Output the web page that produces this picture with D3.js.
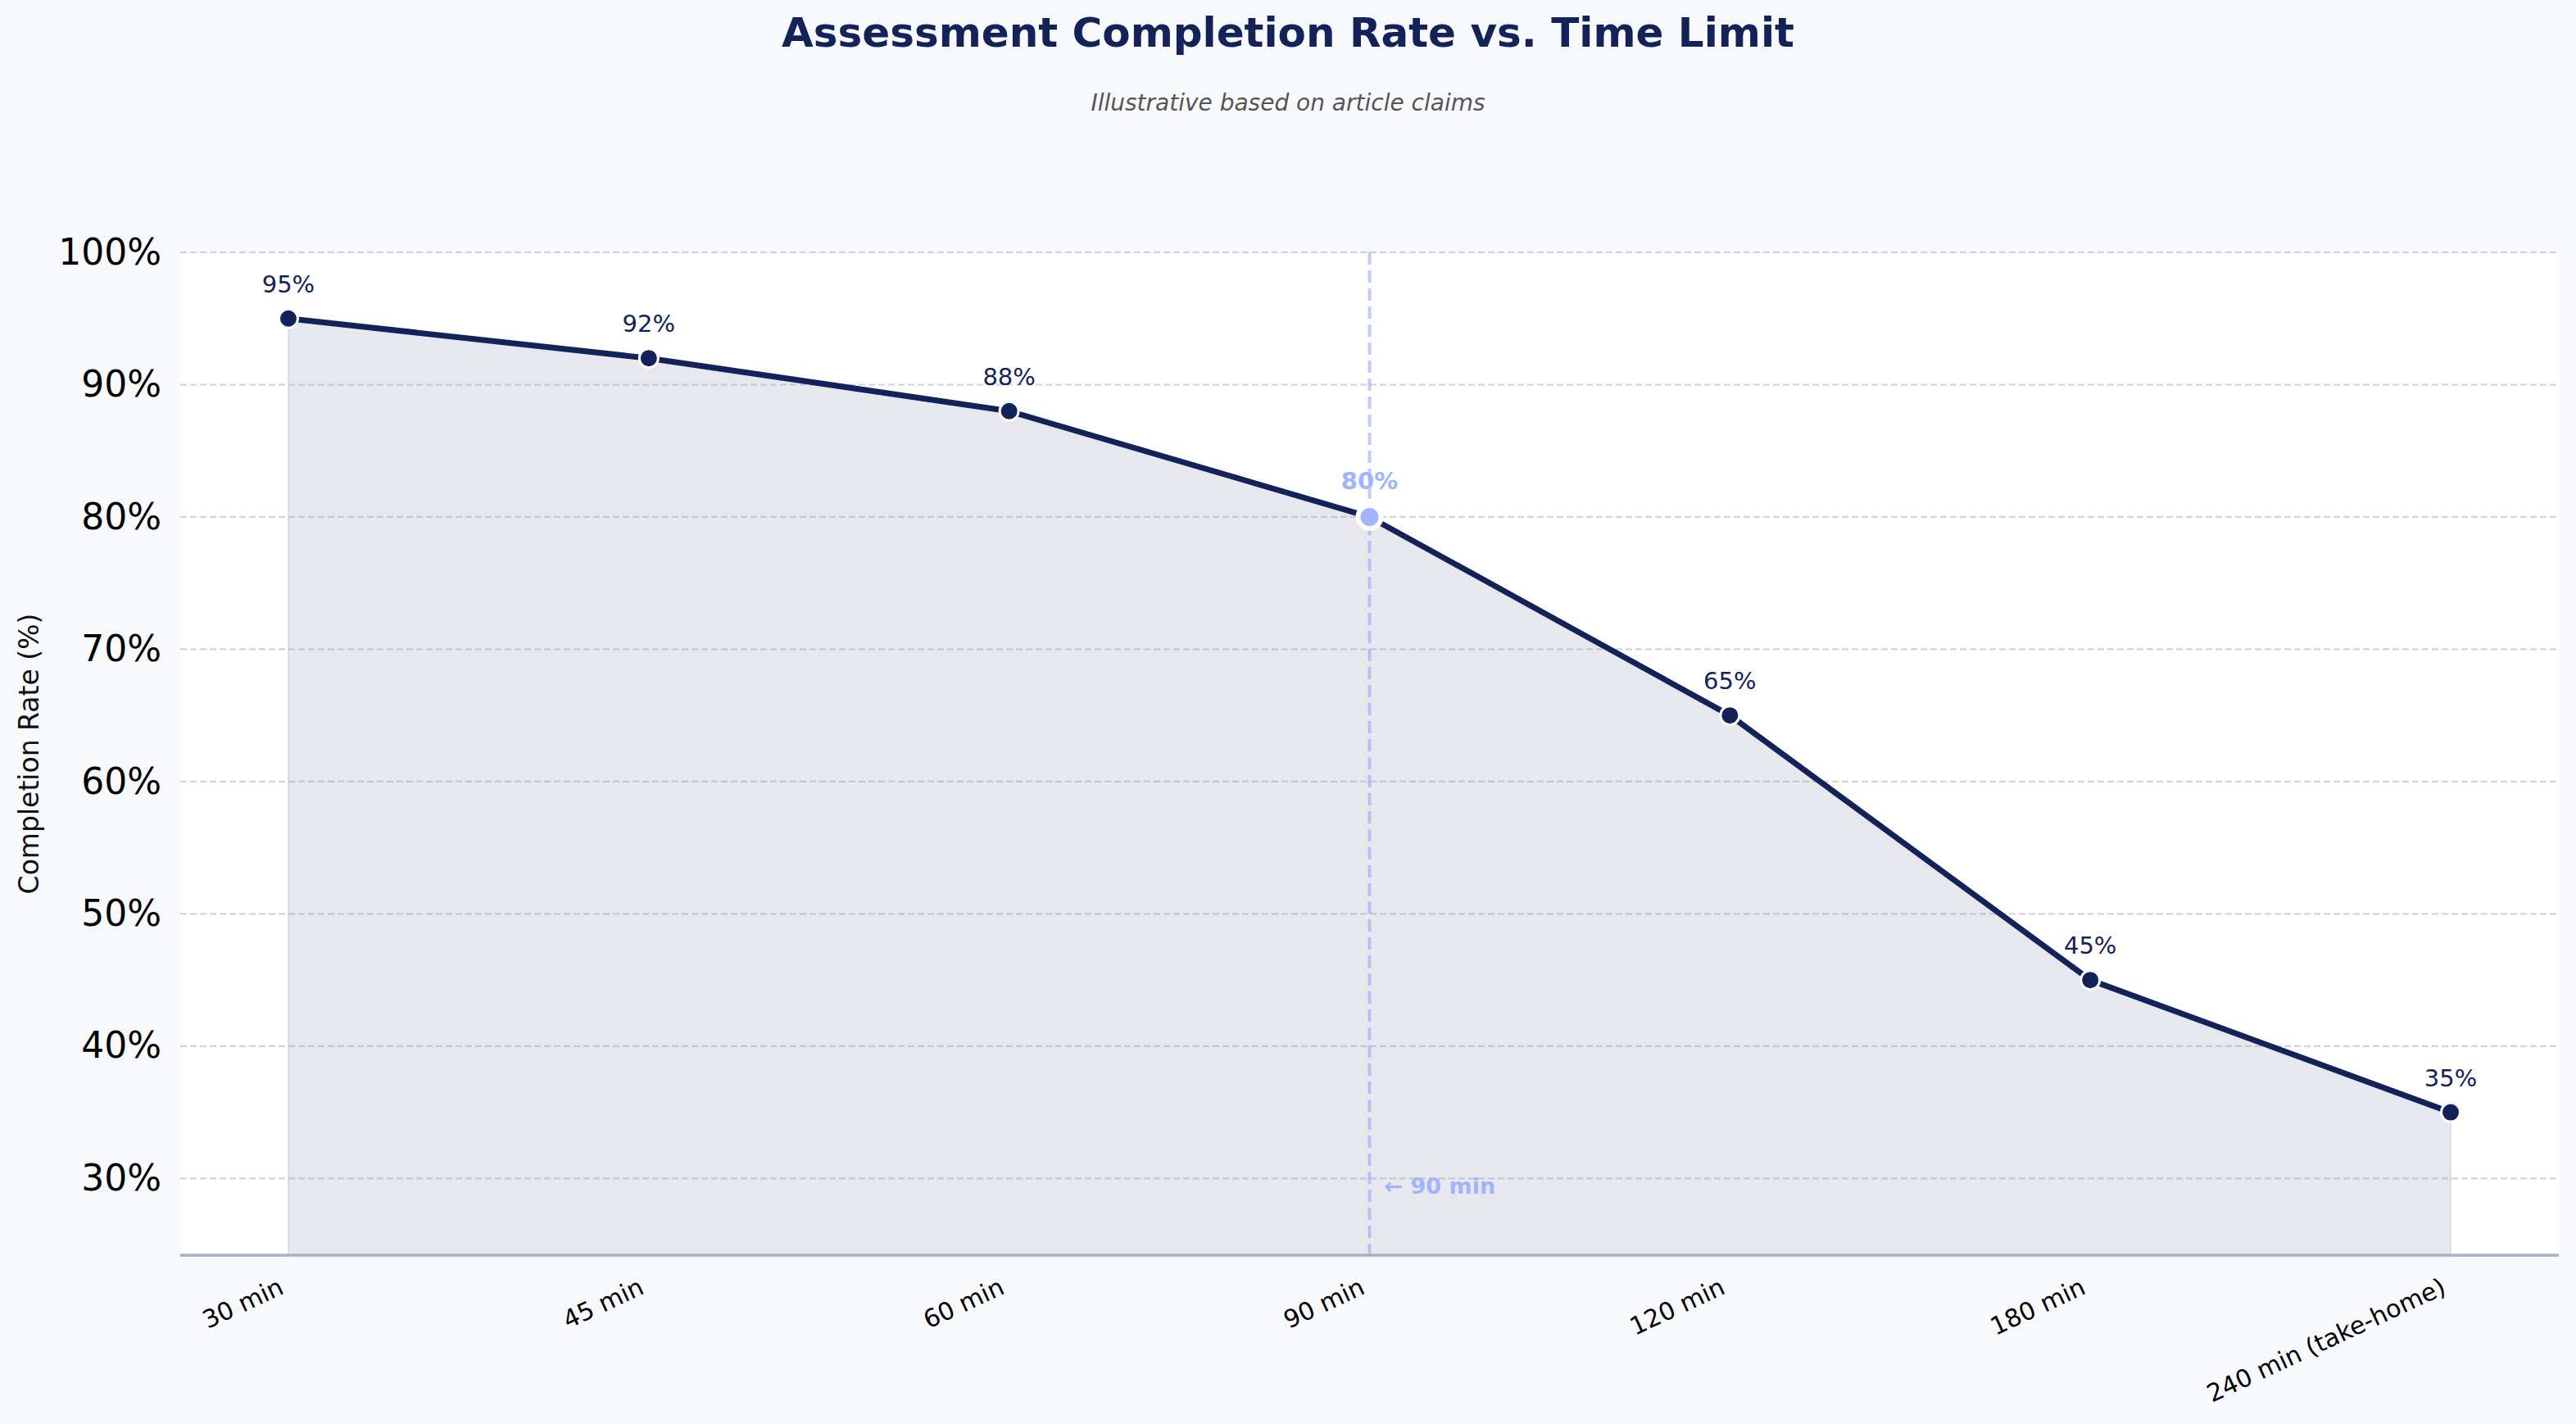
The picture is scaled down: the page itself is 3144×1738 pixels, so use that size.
<!DOCTYPE html>
<html>
<head>
<meta charset="utf-8">
<script src="https://cdn.jsdelivr.net/npm/d3@7"></script>
<style>
  html, body { margin: 0; padding: 0; background: #f7f9fd; }
  svg { display: block; font-family: "DejaVu Sans", sans-serif; }
</style>
</head>
<body>
<script>
// data
const timeLimits = ["30 min", "45 min", "60 min", "90 min", "120 min", "180 min", "240 min (take-home)"]
const completionRates = [95, 92, 88, 80, 65, 45, 35]
const yTicks = [30, 40, 50, 60, 70, 80, 90, 100]
const highlightLimit = "90 min"

const width = 3144
const height = 1738
const margin = { top: 308, right: 21, bottom: 206, left: 220 }
const navy = "#14225a"
const accent = "#a0b4ff"

const svg = d3.select("body")
  .append("svg")
  .attr("width", width)
  .attr("height", height)

svg.append("rect")
  .attr("width", width)
  .attr("height", height)
  .attr("fill", "#f7f9fd")

const x = d3.scalePoint()
  .domain(timeLimits)
  .range([margin.left, width - margin.right])
  .padding(0.3)

const y = d3.scaleLinear()
  .domain([24.2, 100])
  .range([height - margin.bottom, margin.top])

const plotBottom = height - margin.bottom

// axes background
svg.append("rect")
  .attr("x", margin.left)
  .attr("y", margin.top)
  .attr("width", width - margin.left - margin.right)
  .attr("height", plotBottom - margin.top)
  .attr("fill", "#ffffff")

const data = timeLimits.map((t, i) => ({ t, v: completionRates[i] }))

// shaded area under the curve
const area = d3.area()
  .x(d => x(d.t))
  .y0(plotBottom)
  .y1(d => y(d.v))

svg.append("path")
  .datum(data)
  .attr("d", area)
  .attr("fill", navy)
  .attr("fill-opacity", 0.1)
  .attr("stroke", navy)
  .attr("stroke-opacity", 0.1)
  .attr("stroke-width", 2)

// grid
svg.append("g")
  .selectAll("line")
  .data(yTicks)
  .enter().append("line")
  .attr("x1", margin.left)
  .attr("x2", width - margin.right)
  .attr("y1", d => y(d))
  .attr("y2", d => y(d))
  .attr("stroke", "rgb(150,158,185)")
  .attr("stroke-opacity", 0.45)
  .attr("stroke-width", 2.2)
  .attr("stroke-dasharray", "8,4")

// 90 min reference line
svg.append("line")
  .attr("x1", x(highlightLimit))
  .attr("x2", x(highlightLimit))
  .attr("y1", margin.top)
  .attr("y2", plotBottom)
  .attr("stroke", "#7f9cf5")
  .attr("stroke-opacity", 0.5)
  .attr("stroke-width", 4)
  .attr("stroke-dasharray", "15,7")

svg.append("text")
  .attr("x", x(highlightLimit) + 18)
  .attr("y", y(30) + 19)
  .attr("font-size", 27)
  .attr("font-weight", "bold")
  .attr("fill", accent)
  .text("← 90 min")

// bottom spine
svg.append("line")
  .attr("x1", margin.left)
  .attr("x2", width - margin.right)
  .attr("y1", plotBottom)
  .attr("y2", plotBottom)
  .attr("stroke", "#a9afc5")
  .attr("stroke-width", 3.5)

// line + markers
const line = d3.line()
  .x(d => x(d.t))
  .y(d => y(d.v))

svg.append("path")
  .datum(data)
  .attr("d", line)
  .attr("fill", "none")
  .attr("stroke", navy)
  .attr("stroke-width", 7)
  .attr("stroke-linejoin", "round")

svg.append("g")
  .selectAll("circle")
  .data(data)
  .enter().append("circle")
  .attr("cx", d => x(d.t))
  .attr("cy", d => y(d.v))
  .attr("r", d => d.t === highlightLimit ? 14 : 11.5)
  .attr("fill", d => d.t === highlightLimit ? accent : navy)
  .attr("stroke", "#ffffff")
  .attr("stroke-width", d => d.t === highlightLimit ? 6 : 3)

// value labels
svg.append("g")
  .selectAll("text")
  .data(data)
  .enter().append("text")
  .attr("x", d => x(d.t))
  .attr("y", d => y(d.v) - (d.t === highlightLimit ? 34 : 32))
  .attr("text-anchor", "middle")
  .attr("font-size", 29)
  .attr("font-weight", d => d.t === highlightLimit ? "bold" : "normal")
  .attr("fill", d => d.t === highlightLimit ? accent : navy)
  .text(d => d.v + "%")

// y axis
const yAxis = svg.append("g")
  .attr("transform", `translate(${margin.left},0)`)
  .call(d3.axisLeft(y).tickValues(yTicks).tickSize(0).tickPadding(23).tickFormat(d => d + "%"))

yAxis.select(".domain").remove()
yAxis.selectAll("text")
  .attr("font-size", 44)
  .attr("font-family", "DejaVu Sans")
  .attr("fill", "#000")

// x tick labels, rotated
svg.append("g")
  .selectAll("text")
  .data(timeLimits)
  .enter().append("text")
  .attr("transform", d => `translate(${x(d) - 4},${plotBottom + 46}) rotate(-25)`)
  .attr("text-anchor", "end")
  .attr("font-size", 30)
  .attr("fill", "#000")
  .text(d => d)

// axis title
svg.append("text")
  .attr("transform", `translate(47,${(margin.top + plotBottom) / 2}) rotate(-90)`)
  .attr("text-anchor", "middle")
  .attr("font-size", 33)
  .attr("fill", "#111")
  .text("Completion Rate (%)")

// titles
svg.append("text")
  .attr("x", width / 2)
  .attr("y", 57)
  .attr("text-anchor", "middle")
  .attr("font-size", 50)
  .attr("font-weight", "bold")
  .attr("fill", navy)
  .text("Assessment Completion Rate vs. Time Limit")

svg.append("text")
  .attr("x", width / 2)
  .attr("y", 135)
  .attr("text-anchor", "middle")
  .attr("font-size", 28)
  .attr("font-style", "italic")
  .attr("fill", "#555")
  .text("Illustrative based on article claims")
</script>
</body>
</html>
